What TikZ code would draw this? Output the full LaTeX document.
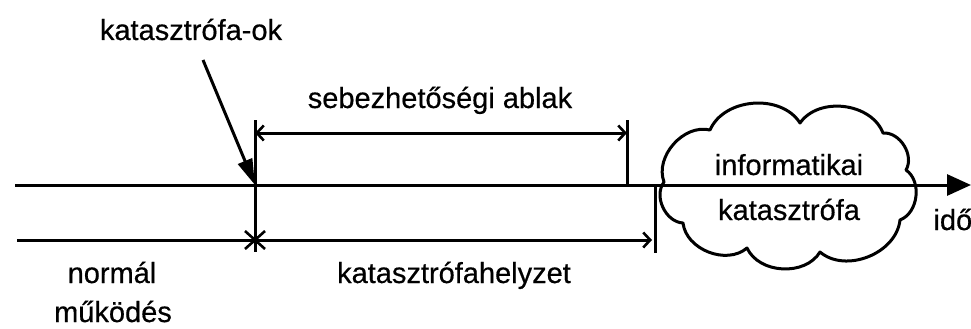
\documentclass[tikz,border=0pt]{standalone}
\usepackage{fontspec}
\setmainfont{Liberation Sans}[FakeBold=0.5]
\usetikzlibrary{arrows.meta,calc}
\begin{document}
\begin{tikzpicture}[x=1pt,y=-1pt,line width=3pt,
  lbl/.style={font=\fontsize{29}{32}\selectfont,inner sep=0pt,anchor=base},
  barb/.style={-{Straight Barb[length=7pt,width=15pt,line width=2.6pt]}},
  bothbarb/.style={{Straight Barb[length=7pt,width=15pt,line width=2.6pt]}-{Straight Barb[length=7pt,width=15pt,line width=2.6pt]}},
  bigtip/.style={-{Triangle[length=24pt,width=21pt]}},
  causetip/.style={-{Triangle[length=26pt,width=15pt]}},
  puff/.style={bend left=62}]
\useasboundingbox (0,0) rectangle (971,329);
% coordinates
\coordinate (L0) at (15,185);
\coordinate (Lend) at (971,185);
\coordinate (B0) at (17,240);
\coordinate (Bs) at (255,240);
\coordinate (Be) at (652,240);
\coordinate (Vtop) at (255,120);
\coordinate (Vbot) at (255,252);
\coordinate (Wl) at (255,133);
\coordinate (Wr) at (627,133);
\coordinate (Wrt) at (627,120);
\coordinate (Wrb) at (627,185);
\coordinate (Ct) at (655,187);
\coordinate (Cb) at (655,253);
\coordinate (okfrom) at (203,60);
\coordinate (cause) at (255,185);
% cloud cusps
\coordinate (P1) at (664,182);
\coordinate (P2) at (710,130);
\coordinate (P3) at (800,123);
\coordinate (P4) at (883,133);
\coordinate (P5) at (906,170);
\coordinate (P6) at (900,220);
\coordinate (P7) at (820,252);
\coordinate (P8) at (747,248);
\coordinate (P9) at (683,223);
\draw[line join=round] (P1) to[puff] (P2) to[puff] (P3) to[puff] (P4) to[puff] (P5)
  to[puff] (P6) to[puff] (P7) to[puff] (P8) to[puff] (P9) to[puff] (P1) -- cycle;
% timeline
\draw[bigtip] (L0) -- (Lend);
\draw (B0) -- (Bs);
\draw[barb] (Bs) -- (Be);
\draw (Vtop) -- (Vbot);
\draw[bothbarb] (Wl) -- (Wr);
\draw (Wrt) -- (Wrb);
\draw (Ct) -- (Cb);
% star
\draw[line width=2.6pt] ($(Bs)+(-10,-9)$) -- ($(Bs)+(10,9)$);
\draw[line width=2.6pt] ($(Bs)+(-10,9)$) -- ($(Bs)+(10,-9)$);
% cause arrow
\draw[causetip] (okfrom) -- (cause);
% labels
\node[lbl] (ok) at (191,40) {katasztrófa-ok};
\node[lbl] (ablak) at (440,108) {sebezhetőségi ablak};
\node[lbl] (helyzet) at (454,283) {katasztrófahelyzet};
\node[lbl] (normal) at (112,283) {normál};
\node[lbl] (mukodes) at (113,322) {működés};
\node[lbl] (inf) at (789,175) {informatikai};
\node[lbl] (kat) at (789,220) {katasztrófa};
\node[lbl,anchor=base west] (ido) at (932,230) {idő};
\end{tikzpicture}
\end{document}
